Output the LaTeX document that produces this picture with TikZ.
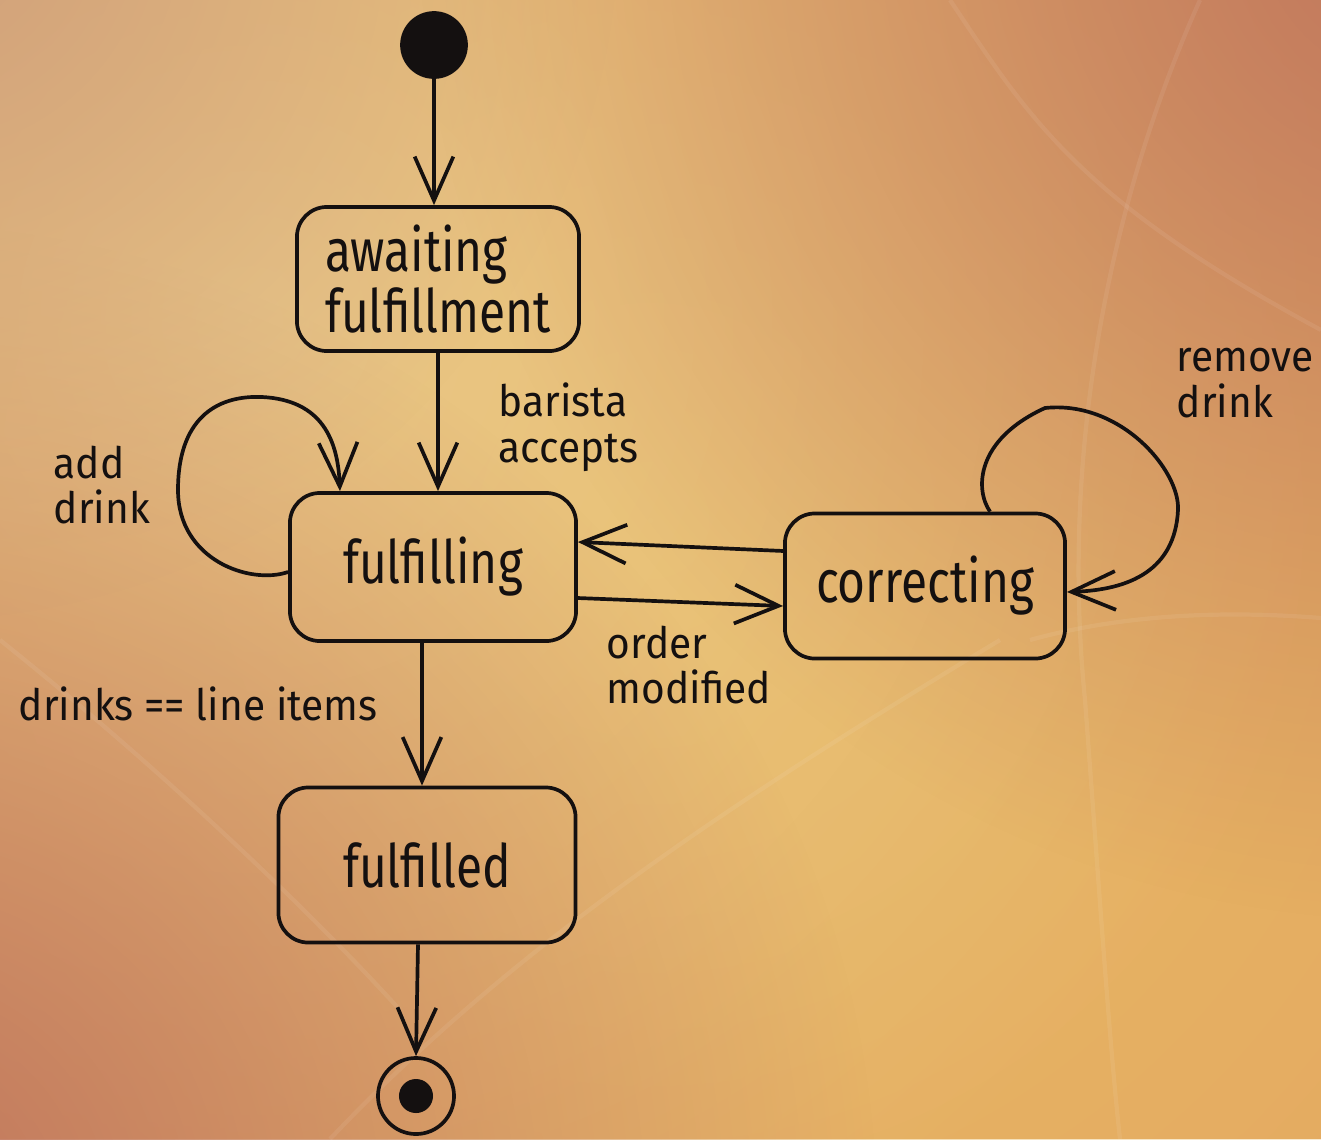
\documentclass[tikz,border=0pt]{standalone}
\usepackage{fontspec}
\newfontfamily\statefont{Fira Sans}[FakeStretch=0.8]
\newfontfamily\notefont{Fira Sans}[FakeStretch=0.94]
\usetikzlibrary{arrows.meta,fadings}

\definecolor{ink}{HTML}{141010}
\definecolor{bgbase}{HTML}{E3A560}
\definecolor{bgglow}{HTML}{EAC888}
\definecolor{bgwarm}{HTML}{E9BC66}
\definecolor{bgrust}{HTML}{C0765E}
\definecolor{bgtan}{HTML}{D0A07C}

\tikzfading[name=softedge, inner color=transparent!0, outer color=transparent!100]

\begin{document}
\begin{tikzpicture}[
  x=0.01cm, y=-0.01cm,
  line width=1.05pt,
  >={Straight Barb[length=12.5pt,width=11pt]},
  state/.style={draw=ink, rounded corners=0.3cm, inner sep=0pt, text=ink,
    font=\statefont\fontsize{17}{15}\selectfont},
  note/.style={inner sep=0pt, text=ink, align=left,
    font=\notefont\fontsize{12.3}{13}\selectfont},
  flow/.style={draw=ink, ->},
  streak/.style={draw=white, opacity=0.07, line width=1.2pt}
]
% warm gradient backdrop
\useasboundingbox (0,0) rectangle (1321,1139);
\begin{scope}
  \clip (0,0) rectangle (1321,1139);
  \fill[bgbase] (0,0) rectangle (1321,1139);
  \fill[bgwarm, path fading=softedge] (650,520) circle (1300);
  \fill[bgglow, path fading=softedge] (250,320) circle (1100);
  \fill[bgrust, path fading=softedge] (1420,-80) circle (1000);
  \fill[bgrust, path fading=softedge] (-120,1220) circle (1000);
  \fill[bgtan, path fading=softedge] (-80,-80) circle (700);
  % faint streaks
  \draw[streak] (950,0) .. controls (1030,120) and (1080,200) .. (1321,330);
  \draw[streak] (1200,0) .. controls (1110,200) and (1060,450) .. (1085,700) .. controls (1100,900) and (1110,1050) .. (1120,1139);
  \draw[streak] (1030,640) .. controls (1120,615) and (1220,610) .. (1321,618);
  \draw[streak] (0,640) .. controls (150,760) and (300,900) .. (400,1010);
  \draw[streak] (330,1139) .. controls (500,960) and (700,820) .. (1000,640);
\end{scope}

% states
\node[circle, fill=ink, draw=ink, minimum size=0.64cm, inner sep=0pt] (init) at (434,45) {};
\node[state, align=left, minimum width=2.82cm, minimum height=1.44cm] (await) at (438,279) {awaiting\\fulfillment};
\node[state, minimum width=2.86cm, minimum height=1.48cm] (fing) at (433,567) {fulfilling};
\node[state, minimum width=2.80cm, minimum height=1.45cm] (corr) at (925,586) {correcting};
\node[state, minimum width=2.97cm, minimum height=1.55cm] (fed) at (427,865) {fulfilled};
\node[circle, draw=ink, minimum size=0.76cm, inner sep=0pt] (final) at (416,1096) {};
\fill[ink] (final) circle (0.17cm);

% transitions
\draw[flow] (init.south) -- (init.south |- await.north);
\draw[flow] (await.south) -- (await.south |- fing.north);
\path ([xshift=-0.11cm]fing.south) coordinate (fdown);
\draw[flow] (fdown) -- (fdown |- fed.north);
\path ([xshift=-0.09cm]fed.south) coordinate (edown);
\draw[flow] (edown) -- (final.north);
\draw[flow] ([yshift=-0.31cm]fing.east) -- ([yshift=-0.2cm]corr.west);
\draw[flow] ([yshift=0.35cm]corr.west) -- ([yshift=0.25cm]fing.east);
\draw[flow] ([yshift=-0.05cm]fing.west) .. controls (250,585) and (178,560) .. (178,490)
  .. controls (178,420) and (215,395) .. (262,397)
  .. controls (322,400) and (338,440) .. ([xshift=-0.93cm]fing.north);
\draw[flow] ([xshift=0.65cm]corr.north) .. controls (975,490) and (975,440) .. (1045,408)
  .. controls (1120,400) and (1180,470) .. (1178,510)
  .. controls (1175,570) and (1130,590) .. ([yshift=-0.06cm]corr.east);

% transition labels
\node[note, anchor=west] (lbarista) at (497,427) {barista\\accepts};
\node[note, anchor=west] (ladd) at (52,485) {add\\drink};
\node[note, anchor=west] (lorder) at (605,665) {order\\modified};
\node[note, anchor=west] (lremove) at (1175,383) {remove\\drink};
\node[note, anchor=base west] (ldone) at (17,720) {drinks == line items};
\end{tikzpicture}
\end{document}
